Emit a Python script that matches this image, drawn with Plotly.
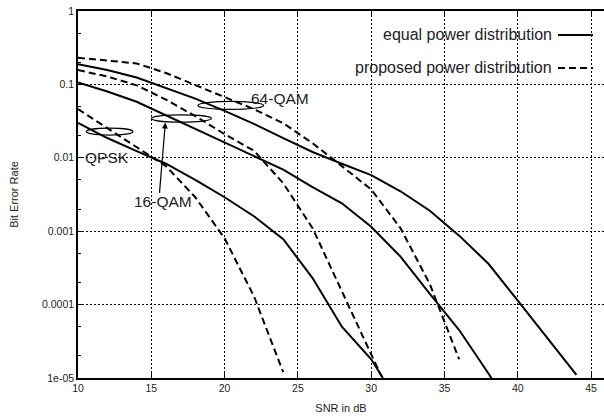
import plotly.graph_objects as go

# ---------------- data ----------------
qpsk_eq_x = [10, 12, 14, 16, 18, 20, 22, 24, 26, 28, 30, 30.8]
qpsk_eq_y = [0.030, 0.0186, 0.0123, 0.0083, 0.0050, 0.0029, 0.0016, 0.00078, 0.00023, 5e-5, 1.8e-5, 1e-5]

qpsk_pr_x = [10, 12, 14, 16, 18, 20, 22, 24]
qpsk_pr_y = [0.046, 0.0254, 0.014, 0.0077, 0.0029, 0.0008, 0.00013, 1.2e-5]

qam16_eq_x = [10, 12, 14, 16, 18, 20, 22, 24, 26, 28, 30, 32, 34, 36, 38, 38.2]
qam16_eq_y = [0.106, 0.080, 0.058, 0.038, 0.025, 0.0162, 0.0105, 0.0069, 0.0040, 0.0024,
              0.00115, 0.00045, 0.00014, 4.5e-5, 1.15e-5, 1e-5]

qam16_pr_x = [10, 12, 14, 16, 18, 20, 22, 24, 26, 28, 30, 30.7]
qam16_pr_y = [0.157, 0.128, 0.097, 0.062, 0.037, 0.021, 0.0125, 0.0045, 0.0011, 0.00015, 2.1e-5, 1.05e-5]

qam64_eq_x = [10, 12, 14, 16, 18, 20, 22, 24, 26, 28, 30, 32, 34, 36, 38, 40, 42, 44]
qam64_eq_y = [0.188, 0.157, 0.124, 0.0895, 0.064, 0.0436, 0.029, 0.0185, 0.012, 0.0083,
              0.0058, 0.0035, 0.0019, 0.00087, 0.00036, 0.000113, 3.5e-5, 1.1e-5]

qam64_pr_x = [10, 12, 14, 16, 18, 20, 22, 24, 26, 28, 30, 32, 34, 36]
qam64_pr_y = [0.231, 0.212, 0.193, 0.143, 0.098, 0.0665, 0.046, 0.0296, 0.0158, 0.0077,
              0.0037, 0.0011, 0.00019, 1.8e-5]

x_ticks = [10, 15, 20, 25, 30, 35, 40, 45]
y_ticks = [1, 0.1, 0.01, 0.001, 0.0001, 0.00001]
y_tick_text = ["1", "0.1", "0.01", "0.001", "0.0001", "1e-05"]

legend_labels = ["equal power distribution", "proposed power distribution"]
FONT = "Liberation Sans, Arial, Helvetica, sans-serif"

fig = go.Figure()
solid = dict(color="black", width=2)
dashed = dict(color="black", width=2, dash="7px,4px")
for xs, ys, ln in [
    (qpsk_eq_x, qpsk_eq_y, solid), (qpsk_pr_x, qpsk_pr_y, dashed),
    (qam16_eq_x, qam16_eq_y, solid), (qam16_pr_x, qam16_pr_y, dashed),
    (qam64_eq_x, qam64_eq_y, solid), (qam64_pr_x, qam64_pr_y, dashed),
]:
    fig.add_trace(go.Scatter(x=xs, y=ys, mode="lines", line=ln, showlegend=False,
                             hoverinfo="skip"))

grid = dict(showgrid=True, gridcolor="black", gridwidth=1, griddash="2px,2px")

fig.update_layout(
    width=604, height=416,
    margin=dict(l=78, r=0, t=11, b=38, autoexpand=False),
    paper_bgcolor="white", plot_bgcolor="white",
    font=dict(family=FONT, color="#222", size=11),
    showlegend=False,
    xaxis=dict(range=[10, 45.88], tickvals=x_ticks, ticks="inside", ticklen=5,
               tickcolor="black", showline=True, linecolor="black", linewidth=1.5,
               mirror="ticks", zeroline=False, tickfont=dict(size=10.5), automargin=False,
               title=dict(text="SNR in dB", font=dict(size=11), standoff=11), **grid),
    yaxis=dict(type="log", range=[-5, 0], tickvals=y_ticks, ticktext=y_tick_text,
               ticks="inside", ticklen=5, tickcolor="black", showline=True,
               linecolor="black", linewidth=1.5, mirror=False, zeroline=False,
               tickfont=dict(size=10.5), automargin=False,
               minor=dict(ticks="inside", ticklen=3, tickcolor="black", dtick="D2", showgrid=False),
               title=dict(text="Bit Error Rate", font=dict(size=11), standoff=21), **grid),
)

# ellipses marking the curve pairs
ell = dict(type="circle", xref="x", yref="y", line=dict(color="black", width=1.2))
fig.add_shape(x0=10.57, x1=13.75, y0=0.0204, y1=0.0254, **ell)
fig.add_shape(x0=15.01, x1=19.10, y0=0.0306, y1=0.0384, **ell)
fig.add_shape(x0=18.17, x1=22.67, y0=0.0456, y1=0.0586, **ell)

lab = dict(showarrow=False, font=dict(size=15.5, color="#222"), xref="x", yref="y")
fig.add_annotation(x=12.0, y=-1.994, text="QPSK", **lab)
fig.add_annotation(x=15.81, y=-2.593, text="16-QAM", **lab)
fig.add_annotation(x=23.81, y=-1.191, text="64-QAM", **lab)
fig.add_annotation(x=15.96, y=-1.518, xref="x", yref="y", text="", showarrow=True,
                   ax=-6, ay=72, arrowhead=2, arrowsize=1, arrowwidth=1.2, arrowcolor="black")

# legend (text left of sample, like the original)
for i, (lbl, d) in enumerate(zip(legend_labels, ["solid", "7px,4px"])):
    ypaper = [0.9347, 0.8448][i]
    fig.add_annotation(x=0.905, y=ypaper, xref="paper", yref="paper", text=lbl,
                       showarrow=False, xanchor="right", yanchor="middle",
                       font=dict(size=16, color="#222"))
    fig.add_shape(type="line", xref="paper", yref="paper", x0=0.9125, x1=0.979,
                  y0=ypaper, y1=ypaper, line=dict(color="black", width=2, dash=d))

fig.write_html("out.html", config={"displayModeBar": False},
               post_script="document.body.style.margin='0';document.body.style.overflow='hidden';")
